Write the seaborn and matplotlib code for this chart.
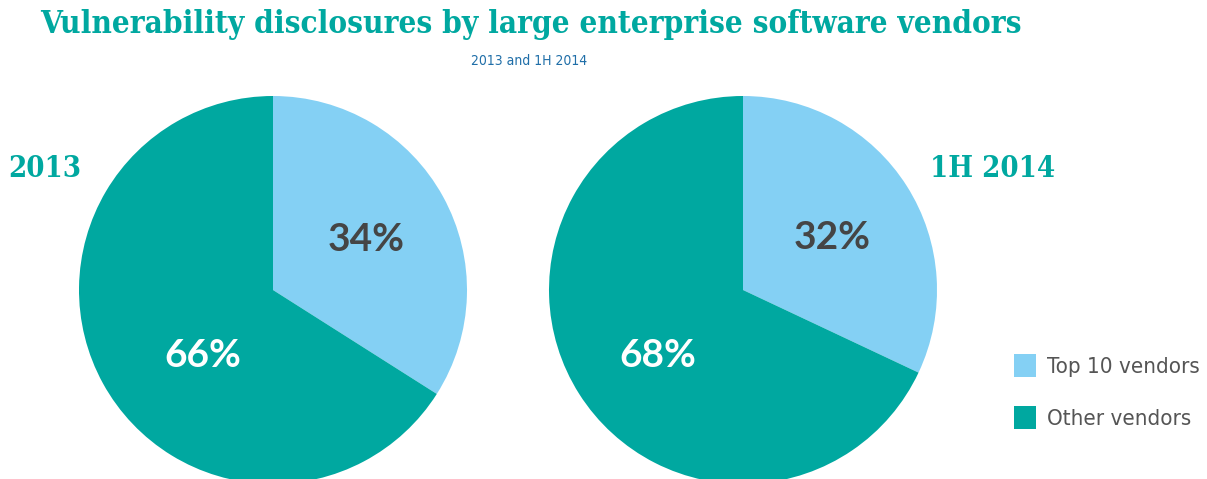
import matplotlib
matplotlib.use("Agg")
import matplotlib.pyplot as plt
import seaborn as sns
from matplotlib.patches import Patch

# Data
periods = ["2013", "1H 2014"]
categories = ["Top 10 vendors", "Other vendors"]
top10_share = [34, 32]
other_share = [66, 68]

# Styling
TEAL = "#00A8A0"
LIGHT_BLUE = "#84D0F4"
DARK_TEXT = "#454545"
SUB_BLUE = "#1F6EA8"

sns.set_theme(style="white")
plt.rcParams["font.family"] = ["DejaVu Sans"]

W, H = 1207, 479
fig = plt.figure(figsize=(W / 100, H / 100), dpi=100)
fig.patch.set_facecolor("white")

def px_axes(cx, cy, r):
    return fig.add_axes([(cx - r) / W, (H - cy - r) / H, 2 * r / W, 2 * r / H])

centers = [(273, 290), (743, 290)]
radius_px = 194
label_offsets = [
    [(0.48, 0.26), (-0.36, -0.34)],
    [(0.46, 0.27), (-0.44, -0.34)],
]
label_colors = [DARK_TEXT, "white"]

for i, (cx, cy) in enumerate(centers):
    ax = px_axes(cx, cy, radius_px)
    vals = [top10_share[i], other_share[i]]
    ax.pie(vals, colors=[LIGHT_BLUE, TEAL], startangle=90, counterclock=False,
           radius=1.0, wedgeprops=dict(linewidth=0))
    ax.set_xlim(-1, 1)
    ax.set_ylim(-1, 1)
    ax.set_aspect("equal")
    ax.axis("off")
    for j, v in enumerate(vals):
        ox, oy = label_offsets[i][j]
        ax.text(ox, oy, f"{v}%", ha="center", va="center", fontsize=28,
                fontweight="bold", color=label_colors[j], family="Lato")

# Period labels
fig.text(8 / W, 1 - 168 / H, periods[0], ha="left", va="center",
         fontsize=21, fontweight="bold", color=TEAL, family="DejaVu Serif",
         stretch="condensed")
fig.text(1055 / W, 1 - 168 / H, periods[1], ha="right", va="center",
         fontsize=21, fontweight="bold", color=TEAL, family="DejaVu Serif",
         stretch="condensed")

# Title and subtitle
fig.text(40 / W, 1 - 24 / H, "Vulnerability disclosures by large enterprise software vendors",
         ha="left", va="center", fontsize=22.6, fontweight="bold", color=TEAL,
         family="DejaVu Serif", stretch="condensed")
fig.text(529 / W, 1 - 61 / H, "2013 and 1H 2014", ha="center", va="center",
         fontsize=10, color=SUB_BLUE, family="DejaVu Sans", stretch="condensed")

# Legend
handles = [Patch(facecolor=LIGHT_BLUE, edgecolor="none"),
           Patch(facecolor=TEAL, edgecolor="none")]
leg = fig.legend(handles, categories, loc="upper left",
                 bbox_to_anchor=(1014 / W, 1 - 354 / H), frameon=False,
                 prop=dict(family="DejaVu Sans", stretch="condensed", size=16),
                 handlelength=1.0, handleheight=1.2, handletextpad=0.5,
                 labelspacing=1.3, borderpad=0, borderaxespad=0)
for t in leg.get_texts():
    t.set_color("#555555")

fig.savefig("out.png", dpi=100, facecolor="white")
